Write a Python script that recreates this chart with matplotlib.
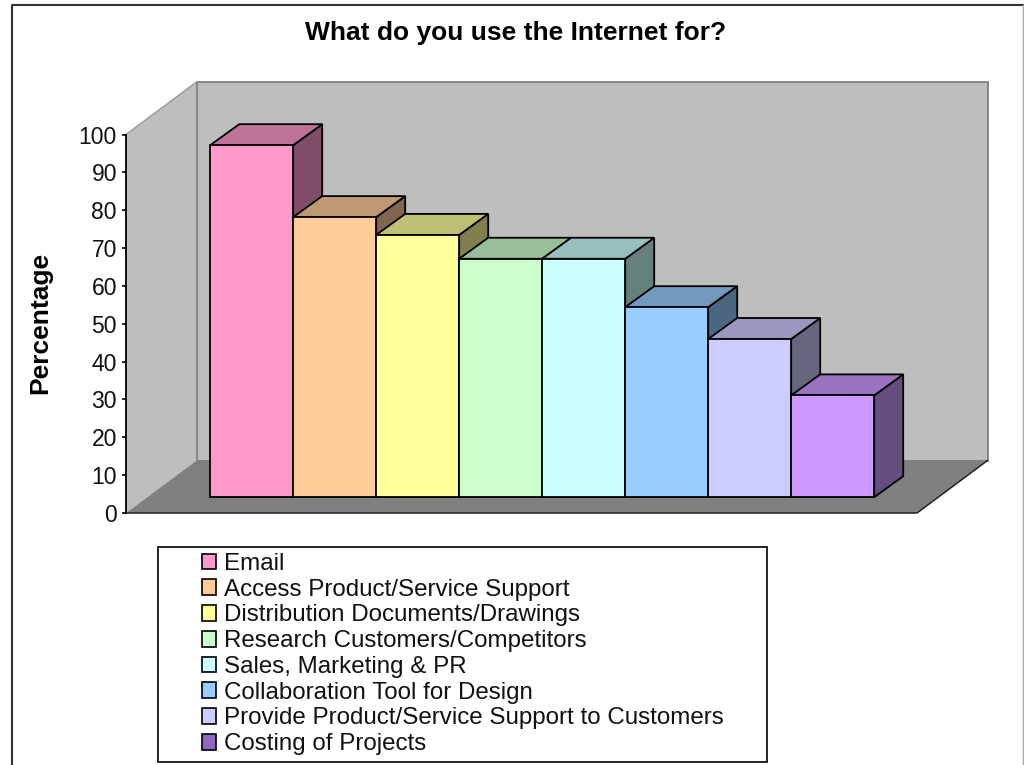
import matplotlib
matplotlib.use("Agg")
import matplotlib.pyplot as plt
from matplotlib.colors import to_rgb
from matplotlib.patches import Patch, Rectangle
from matplotlib.lines import Line2D

plt.rcParams['font.family'] = ['Liberation Sans', 'DejaVu Sans']

categories = ["Email", "Access Product/Service Support", "Distribution Documents/Drawings",
              "Research Customers/Competitors", "Sales, Marketing & PR",
              "Collaboration Tool for Design", "Provide Product/Service Support to Customers",
              "Costing of Projects"]
values = [93, 74, 69.3, 63, 63, 50.2, 41.8, 26.9]
colors = ["#FF99CC", "#FFCC99", "#FFFF99", "#CCFFCC", "#CCFFFF", "#99CCFF", "#CCCCFF", "#CC99FF"]
legend_colors = colors[:-1] + ["#8F68C4"]
y_ticks = list(range(0, 101, 10))

W, H = 1024, 765
PX_PER_BAR = 83.0
PX_PER_PCT = 3.785
X0_PX = 251.7
Y0_PX = 513.0


def shade(color, k):
    return tuple(c * k for c in to_rgb(color))


fig = plt.figure(figsize=(W / 100, H / 100), dpi=100, facecolor="white")
ax = fig.add_axes([0, 0, 1, 1])
ax.set_xlim(-X0_PX / PX_PER_BAR, (W - X0_PX) / PX_PER_BAR)
ax.set_ylim((Y0_PX - H) / PX_PER_PCT, Y0_PX / PX_PER_PCT)
ax.patch.set_visible(False)

# extents of the 3D box, in category and percent units
left = (126 - X0_PX) / PX_PER_BAR
right = (917 - X0_PX) / PX_PER_BAR
box_dx = 70.5 / PX_PER_BAR
box_dy = 52.5 / PX_PER_PCT
bar_base = 15.8 / PX_PER_PCT
bar_dx = 29.0 / PX_PER_BAR
bar_dy = 21.0 / PX_PER_PCT

wall = "#BEBEBE"
edge = "#808080"
ax.fill([left, left + box_dx, left + box_dx, left], [0, box_dy, 100 + box_dy, 100],
        facecolor=wall, edgecolor="none", zorder=1)
ax.fill([left + box_dx, right + box_dx, right + box_dx, left + box_dx],
        [box_dy, box_dy, 100 + box_dy, 100 + box_dy],
        facecolor=wall, edgecolor=edge, linewidth=1.3, zorder=1)
ax.plot([left, left + box_dx], [100, 100 + box_dy], color="#9A9A9A", lw=1.0, zorder=1)
ax.fill([left, right, right + box_dx, left + box_dx], [0, 0, box_dy, box_dy],
        facecolor="#808080", edgecolor="none", zorder=2)
ax.plot([left, right, right + box_dx], [0, 0, box_dy], color="#222222", lw=1.1, zorder=2)

# bars from left to right so the next one covers the previous side face
for i, (v, c) in enumerate(zip(values, colors)):
    z = 3 + i
    x0, x1 = i - 0.5, i + 0.5
    y0, y1 = bar_base, bar_base + v
    ax.fill([x1, x1 + bar_dx, x1 + bar_dx, x1], [y0, y0 + bar_dy, y1 + bar_dy, y1],
            facecolor=shade(c, 0.5), edgecolor="black", linewidth=1.3, zorder=z)
    ax.fill([x0, x0 + bar_dx, x1 + bar_dx, x1], [y1, y1 + bar_dy, y1 + bar_dy, y1],
            facecolor=shade(c, 0.75), edgecolor="black", linewidth=1.3, zorder=z)
    ax.bar(i, v, width=1.0, bottom=bar_base, color=c, edgecolor="black", linewidth=1.3, zorder=z)

# percent axis on the front left edge of the box
for name in ["top", "right", "bottom"]:
    ax.spines[name].set_visible(False)
ax.spines["left"].set_position(("data", left))
ax.spines["left"].set_bounds(0, 100)
ax.spines["left"].set_linewidth(1.3)
ax.spines["left"].set_zorder(20)
ax.set_xticks([])
ax.set_yticks(y_ticks)
ax.tick_params(axis="y", length=3, width=1.2, pad=3.5, labelsize=16.5, labelcolor="#111111")

fig.text(516 / W, 1 - 33 / H, "What do you use the Internet for?", ha="center", va="center",
         fontsize=19, fontweight="bold", color="black")
fig.text(40 / W, 1 - 323 / H, "Percentage", ha="center", va="center", rotation=90,
         fontsize=19, fontweight="bold", color="black")

# legend box and entries
fig.add_artist(Rectangle((158 / W, 1 - 762 / H), 609 / W, 215 / H, transform=fig.transFigure,
                         facecolor="white", edgecolor="#111111", linewidth=1.3, zorder=30))
handles = [Patch(facecolor=c, edgecolor="black", linewidth=1.2) for c in legend_colors]
leg = fig.legend(handles, categories, loc="upper left", bbox_to_anchor=(201.5 / W, 1 - 553 / H),
                 frameon=False, fontsize=17.4, handlelength=0.62, handleheight=0.62,
                 handletextpad=0.33, labelspacing=0.155, borderpad=0, borderaxespad=0)
leg.set_zorder(31)
for t in leg.get_texts():
    t.set_color("#111111")

# outer chart frame
fig.add_artist(Line2D([12 / W, 12 / W, 1023 / W], [0, 1 - 5 / H, 1 - 5 / H], transform=fig.transFigure,
                      color="#333333", linewidth=1.5))
fig.add_artist(Line2D([1023 / W, 1023 / W], [0, 1 - 5 / H], transform=fig.transFigure,
                      color="#AAAAAA", linewidth=1.0))

fig.savefig("out.png", dpi=100)
